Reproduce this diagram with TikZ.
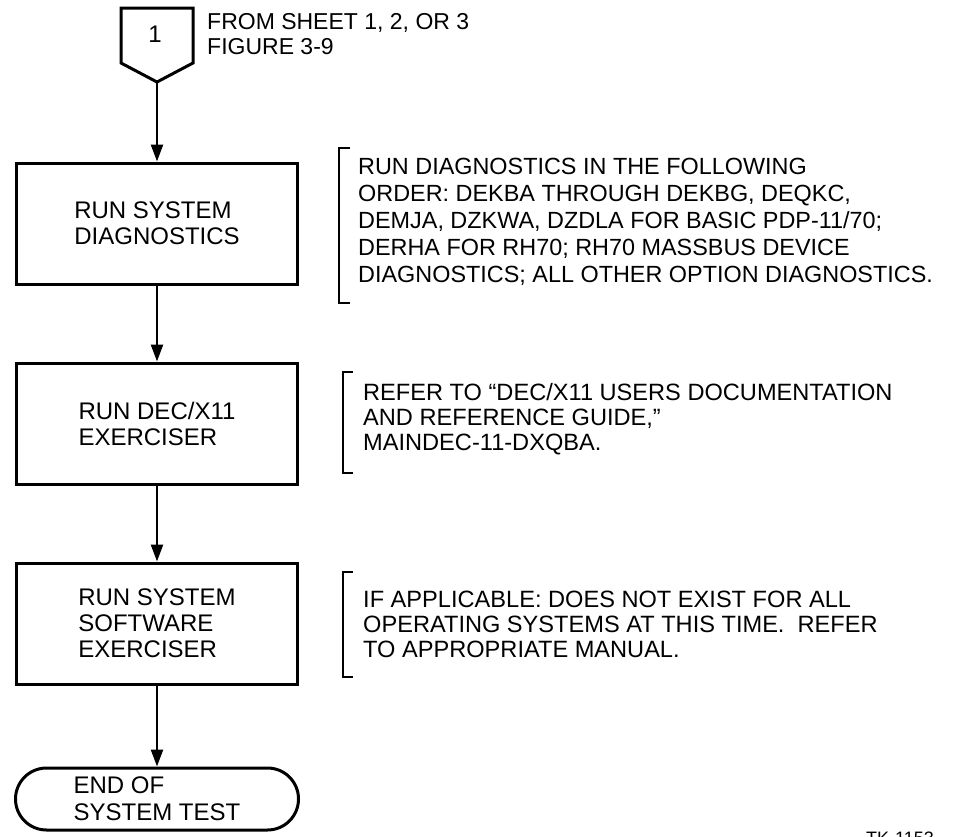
\documentclass[tikz,border=0pt]{standalone}
\usepackage{fontspec}
\setmainfont{Liberation Sans}
\usetikzlibrary{arrows.meta,shapes.misc}
\begin{document}
\begin{tikzpicture}[x=1pt,y=-1pt,
  box/.style={draw, line width=3pt, minimum width=281pt, minimum height=121pt,
    align=left, inner sep=0pt, font=\fontsize{24}{26}\selectfont},
  term/.style={draw, rounded rectangle, line width=3pt, minimum width=283pt,
    minimum height=62pt, align=left, inner sep=0pt, font=\fontsize{24}{27}\selectfont},
  flow/.style={line width=2.5pt, -{Triangle[length=17pt,width=12pt]}},
  brk/.style={line width=2pt},
  note/.style={anchor=west, align=left, inner sep=0pt},
  notea/.style={note, font=\fontsize{23.4}{27}\selectfont},
  noteb/.style={note, font=\fontsize{23.6}{25}\selectfont}]
\useasboundingbox (0,0) rectangle (969,836);
\fill[white] (0,0) rectangle (969,836);

% off-page connector
\draw[line width=3pt, line join=miter] (121,8) -- (193,8) -- (193,63) -- (157,82) -- (121,63) -- cycle;
\node[font=\fontsize{24}{26}\selectfont] (one) at (155,34) {1};
\coordinate (cp) at (157,82);
\node[note, font=\fontsize{23}{25}\selectfont] (from) at (207,34) {FROM SHEET 1, 2, OR 3\\FIGURE 3-9};

% boxes
\node[box] (b1) at (157,223.5) {RUN SYSTEM\\DIAGNOSTICS};
\node[box] (b2) at (157,423.5) {RUN DEC/X11\\EXERCISER};
\node[box] (b3) at (157,623.5) {RUN SYSTEM\\SOFTWARE\\EXERCISER};
\node[term] (end) at (157,799) {END OF\\SYSTEM TEST};

% flow lines
\draw[flow] (cp) -- (b1.north);
\draw[flow] (b1.south) -- (b2.north);
\draw[flow] (b2.south) -- (b3.north);
\draw[flow] (b3.south) -- (end.north);

% annotations
\draw[brk] (350,148) -- (339,148) -- (339,303) -- (350,303);
\node[notea] (n1) at (358,222) {RUN DIAGNOSTICS IN THE FOLLOWING\\ORDER: DEKBA THROUGH DEKBG, DEQKC,\\DEMJA, DZKWA, DZDLA FOR BASIC PDP-11/70;\\DERHA FOR RH70; RH70 MASSBUS DEVICE\\DIAGNOSTICS; ALL OTHER OPTION DIAGNOSTICS.};

\draw[brk] (353,372) -- (343,372) -- (343,473) -- (353,473);
\node[noteb] (n2) at (363,419) {REFER TO ``DEC/X11 USERS DOCUMENTATION\\AND REFERENCE GUIDE,''\\MAINDEC-11-DXQBA.};

\draw[brk] (353,572) -- (343,572) -- (343,677) -- (353,677);
\node[noteb] (n3) at (363,624) {IF APPLICABLE: DOES NOT EXIST FOR ALL\\OPERATING SYSTEMS AT THIS TIME.\ \ REFER\\TO APPROPRIATE MANUAL.};

\node[anchor=north west, inner sep=0pt, font=\fontsize{18}{18}\selectfont] (tk) at (866,832) {TK-1153};
\end{tikzpicture}
\end{document}
